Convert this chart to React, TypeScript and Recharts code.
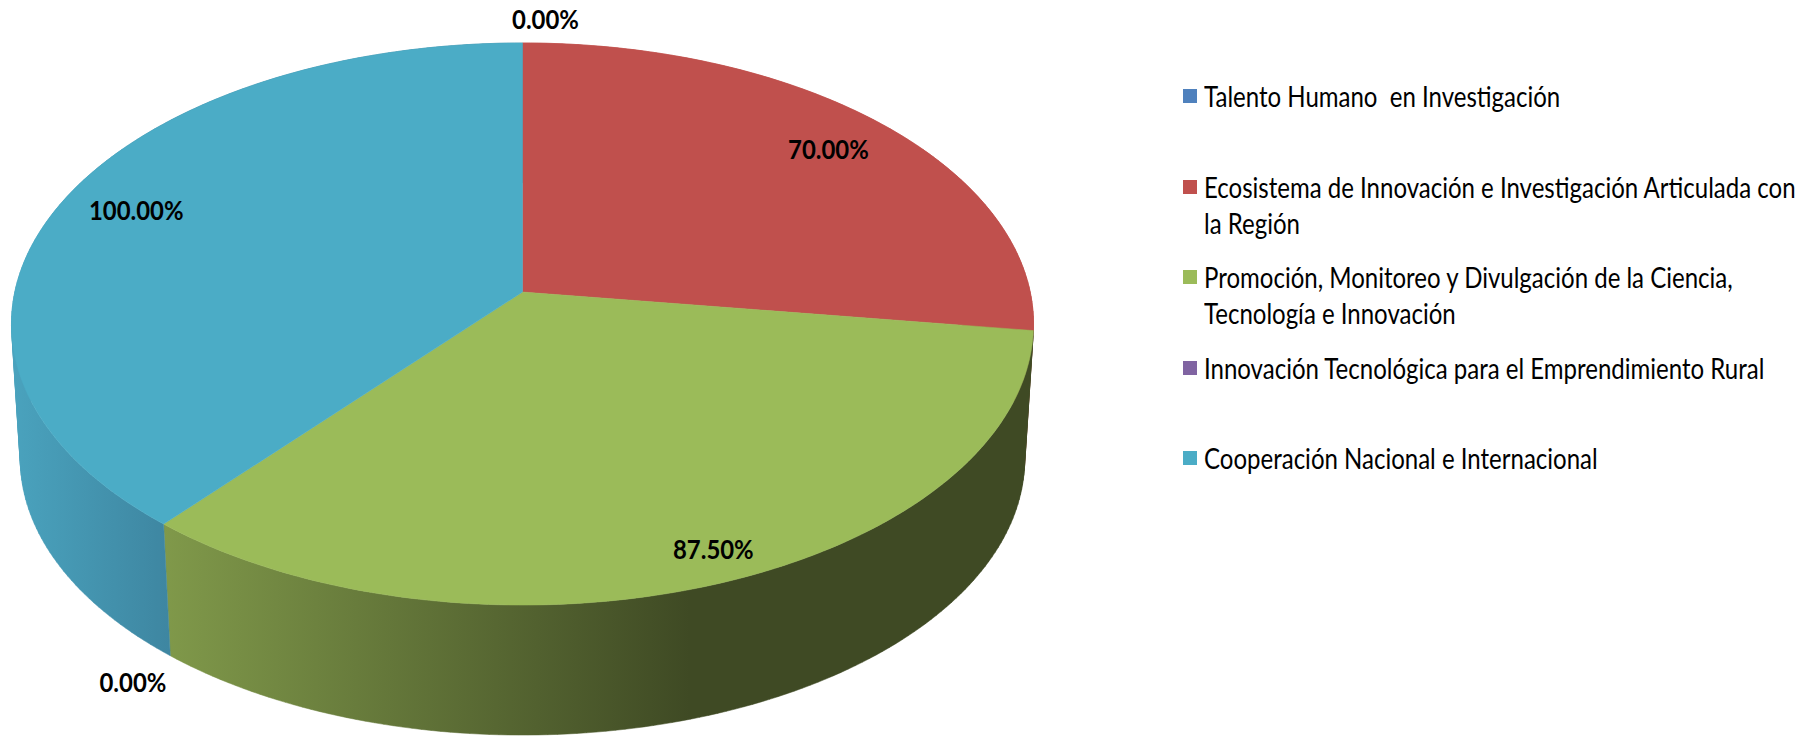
import React from 'react';
import { PieChart, Pie, Cell, Legend } from 'recharts';

const categories = [
  'Talento Humano  en Investigación',
  'Ecosistema de Innovación e Investigación Articulada con la Región',
  'Promoción, Monitoreo y Divulgación de la Ciencia, Tecnología e Innovación',
  'Innovación Tecnológica para el Emprendimiento Rural',
  'Cooperación Nacional e Internacional',
];
const values = [0, 70, 87.5, 0, 100];
const colors = ['#4f81bd', '#c0504d', '#9bbb59', '#8064a2', '#4bacc6'];

const data = categories.map((name, i) => ({ name, value: values[i] }));

const FONT = 'Lato, sans-serif';
const CENTER_X = 522.5;
const CENTER_Y = 292;
const RADIUS = 507.7;
const SQUASH = 0.5464; // vertical radius / horizontal radius of the tilted disc
const PERSPECTIVE = 0.1139; // front of the disc is nearer than the back
const DEPTH = 136;
const BOTTOM_SCALE = 0.983;
const LEGEND_SQUEEZE = 0.828; // reference text is tall and narrow

// where each label sits: fraction of the radius, then a nudge in px
const labelPlacement = [
  { r: 1.1, dx: 23, dy: -2 },
  { r: 0.85, dx: 0, dy: 2 },
  { r: 0.9, dx: 10, dy: -1 },
  { r: 1.1, dx: 9, dy: 132 },
  { r: 0.83, dx: -3, dy: -6 },
];

const project = (cx: number, cy: number, radius: number, angle: number) => {
  const t = ((90 - angle) * Math.PI) / 180;
  const den = 1 + (PERSPECTIVE * radius * Math.cos(t)) / RADIUS;
  return {
    x: cx + (radius * Math.sin(t)) / den,
    y: cy - (radius * SQUASH * Math.cos(t)) / den,
  };
};

const arcPoints = (cx: number, cy: number, radius: number, start: number, end: number) => {
  const steps = Math.max(2, Math.ceil(Math.abs(end - start)));
  const pts = [];
  for (let i = 0; i <= steps; i++) {
    pts.push(project(cx, cy, radius, start + ((end - start) * i) / steps));
  }
  return pts;
};

type Pt = { x: number; y: number };

const toPath = (pts: Pt[]) =>
  pts.map((p, i) => `${i ? 'L' : 'M'}${p.x.toFixed(2)},${p.y.toFixed(2)}`).join(' ') + ' Z';

const signedArea = (pts: Pt[]) =>
  pts.reduce((sum, p, i) => {
    const q = pts[(i + 1) % pts.length];
    return sum + p.x * q.y - q.x * p.y;
  }, 0);

const TopSector = (props: any) => {
  const { cx, cy, outerRadius, startAngle, endAngle, fill } = props;
  if (startAngle === endAngle) return <g />;
  const d = toPath([{ x: cx, y: cy }, ...arcPoints(cx, cy, outerRadius, startAngle, endAngle)]);
  return <path d={d} fill={fill} stroke={fill} strokeWidth={0.5} />;
};

// the side is a strip of small quads, all wound the same way so they union
const WallSector = (props: any) => {
  const { cx, cy, outerRadius, startAngle, endAngle, fill } = props;
  if (startAngle === endAngle) return <g />;
  const top = arcPoints(cx, cy, outerRadius, startAngle, endAngle);
  const bottom = arcPoints(cx, cy + DEPTH, outerRadius * BOTTOM_SCALE, startAngle, endAngle);
  const quads = [];
  for (let i = 0; i < top.length - 1; i++) {
    const quad = [top[i], top[i + 1], bottom[i + 1], bottom[i]];
    if (signedArea(quad) < 0) quad.reverse();
    quads.push(toPath(quad));
  }
  return <path d={quads.join(' ')} fill={fill} stroke={fill} strokeWidth={0.5} />;
};

const renderLabel = (props: any) => {
  const { cx, cy, outerRadius, midAngle, index, value } = props;
  const place = labelPlacement[index];
  const p = project(cx, cy, outerRadius * place.r, midAngle);
  return (
    <text
      key={index}
      transform={`translate(${p.x + place.dx} ${p.y + place.dy}) scale(0.92 1)`}
      textAnchor="middle"
      dominantBaseline="central"
      fontFamily={FONT}
      fontWeight={700}
      fontSize={26}
      fill="#000"
    >
      {Number(value).toFixed(2)}%
    </text>
  );
};

const renderLegend = (props: any) => {
  // both pies feed the legend, keep the entry of the top one
  const byName = new Map(props.payload.map((entry: any) => [entry.value, entry]));
  return (
    <div style={{ fontFamily: FONT, fontSize: 29, lineHeight: '36px', color: '#000' }}>
      {categories.map((name) => (
        <div key={name} style={{ position: 'relative', height: 90.5 }}>
          <span
            style={{
              position: 'absolute',
              left: 0,
              top: 11,
              width: 14,
              height: 14,
              background: (byName.get(name) as any)?.color,
            }}
          />
          <div
            style={{
              position: 'absolute',
              left: 21,
              top: 0,
              width: 725,
              whiteSpace: 'pre-wrap',
              transform: `scaleX(${LEGEND_SQUEEZE})`,
              transformOrigin: 'left top',
            }}
          >
            {name}
          </div>
        </div>
      ))}
    </div>
  );
};

export default function App() {
  return (
    <div style={{ position: 'absolute', left: 0, top: 0, width: 1808, height: 736, background: '#fff' }}>
      <PieChart width={1808} height={736} margin={{ top: 0, right: 0, bottom: 0, left: 0 }}>
        <defs>
          <linearGradient id="wall-green" gradientUnits="userSpaceOnUse" x1={163} y1={0} x2={690} y2={0}>
            <stop offset="0" stopColor="#80994a" />
            <stop offset="1" stopColor="#3f4a24" />
          </linearGradient>
          <linearGradient id="wall-blue" gradientUnits="userSpaceOnUse" x1={10} y1={0} x2={169} y2={0}>
            <stop offset="0" stopColor="#4aa3be" />
            <stop offset="1" stopColor="#3e86a1" />
          </linearGradient>
        </defs>
        <Pie
          data={data}
          dataKey="value"
          nameKey="name"
          cx={CENTER_X}
          cy={CENTER_Y}
          outerRadius={RADIUS}
          startAngle={90}
          endAngle={-270}
          legendType="none"
          shape={WallSector}
          isAnimationActive={false}
        >
          {colors.map((c, i) => (
            <Cell key={i} fill={i === 2 ? 'url(#wall-green)' : i === 4 ? 'url(#wall-blue)' : c} />
          ))}
        </Pie>
        <Pie
          data={data}
          dataKey="value"
          nameKey="name"
          cx={CENTER_X}
          cy={CENTER_Y}
          outerRadius={RADIUS}
          startAngle={90}
          endAngle={-270}
          shape={TopSector}
          label={renderLabel}
          labelLine={false}
          isAnimationActive={false}
        >
          {colors.map((c, i) => (
            <Cell key={i} fill={c} />
          ))}
        </Pie>
        <Legend
          layout="vertical"
          align="right"
          verticalAlign="top"
          itemSorter={null}
          content={renderLegend}
          wrapperStyle={{ left: 1183, top: 78, width: 620, right: 'auto' }}
        />
      </PieChart>
    </div>
  );
}
